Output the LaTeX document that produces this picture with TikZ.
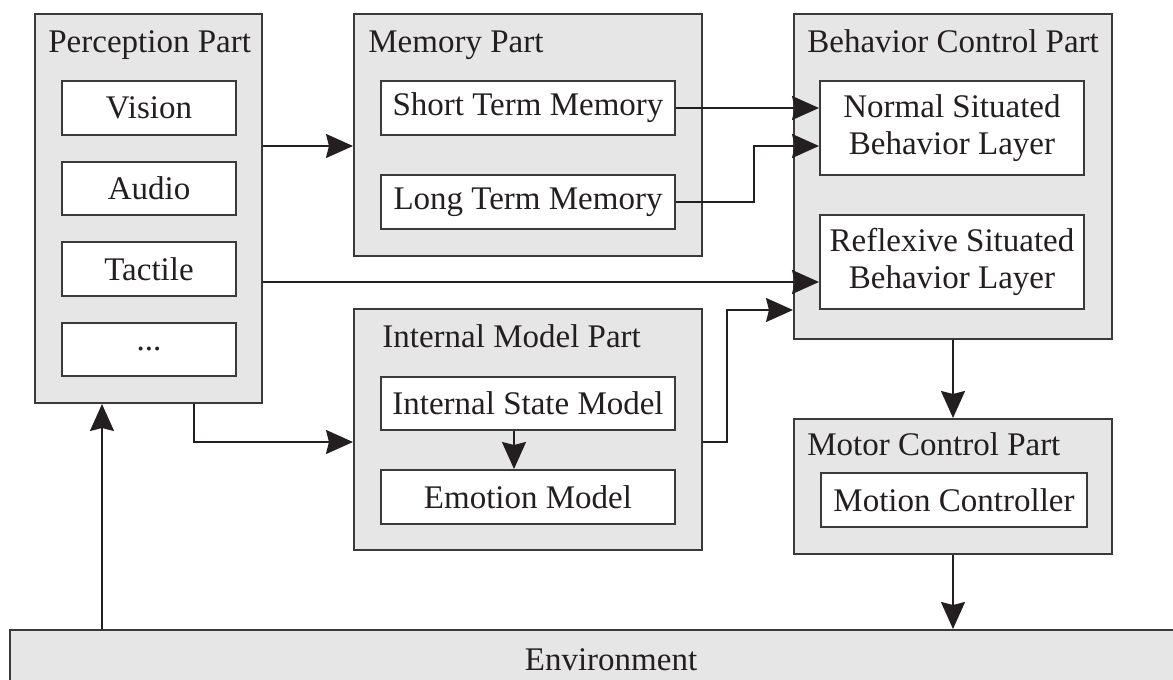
\documentclass[tikz,border=0pt]{standalone}
\usepackage{fontspec}
\setmainfont{Liberation Serif}
\usetikzlibrary{arrows.meta,calc}
\definecolor{partfill}{HTML}{E6E6E6}
\definecolor{edgec}{HTML}{3A3A3A}
\definecolor{ink}{HTML}{231F20}
\begin{document}
\begin{tikzpicture}[x=0.5pt,y=-0.5pt,
  every node/.style={font=\fontsize{16.5}{18.5}\selectfont, text=ink},
  part/.style={draw=edgec, fill=partfill, line width=1pt, anchor=north west, inner sep=0pt},
  unit/.style={draw=edgec, fill=white, line width=1pt, anchor=north west, inner sep=0pt, align=center},
  title/.style={anchor=base west, inner sep=0pt},
  arr/.style={draw=ink, line width=1pt, -{Stealth[length=13.5pt,width=12pt,inset=1.5pt]}}
]
\useasboundingbox (0,0) rectangle (1173,680);
\clip (0,0) rectangle (1173,680);

% Perception part
\node[part, minimum width=113.5pt, minimum height=194.5pt] (perc) at (34,13) {};
\node[title] (perct) at (48,53) {Perception Part};
\node[unit, minimum width=87pt, minimum height=27pt] (vision) at (61,80) {Vision};
\node[unit, minimum width=87pt, minimum height=26.5pt] (audio) at (61,161) {Audio};
\node[unit, minimum width=87pt, minimum height=27pt] (tactile) at (61,241) {Tactile};
\node[unit, minimum width=87pt, minimum height=26.5pt] (dots) at (61,322) {...};

% Memory part
\node[part, minimum width=174pt, minimum height=121pt] (mem) at (353,13) {};
\node[title] (memt) at (368,52) {Memory Part};
\node[unit, minimum width=147pt, minimum height=27pt] (stm) at (380,80) {Short Term Memory};
\node[unit, minimum width=147pt, minimum height=27pt] (ltm) at (380,174) {Long Term Memory};

% Behavior control part
\node[part, minimum width=159pt, minimum height=162.5pt] (beh) at (793,13) {};
\node[title] (beht) at (807,52) {Behavior Control Part};
\node[unit, minimum width=132pt, minimum height=47pt] (nsbl) at (819,80) {Normal Situated\\Behavior Layer};
\node[unit, minimum width=132pt, minimum height=47pt] (rsbl) at (819,214) {Reflexive Situated\\Behavior Layer};

% Internal model part
\node[part, minimum width=174pt, minimum height=120.5pt] (intm) at (353,308) {};
\node[title] (intmt) at (382,347) {Internal Model Part};
\node[unit, minimum width=147pt, minimum height=26.5pt] (ism) at (380,376) {Internal State Model};
\node[unit, minimum width=147pt, minimum height=27pt] (emo) at (380,469) {Emotion Model};

% Motor control part
\node[part, minimum width=159pt, minimum height=67.5pt] (motor) at (793,418) {};
\node[title] (motort) at (807,455) {Motor Control Part};
\node[unit, minimum width=133pt, minimum height=27pt] (mc) at (820,472) {Motion Controller};

% Environment
\node[part, minimum width=601pt, minimum height=30pt] (env) at (9,629) {Environment};

% Connectors
\draw[arr] (perc.east |- 0,146) -- (mem.west |- 0,146);
\draw[arr] (stm.east) -- (stm.east -| nsbl.west);
\draw[arr] (ltm.east) -- (754,0 |- ltm.east) -- (754,146) -- (nsbl.west |- 0,146);
\draw[arr] (perc.east |- 0,282) -- (rsbl.west |- 0,282);
\draw[arr] (perc.south -| 194,0) -- (194,442) -- (intm.west |- 0,442);
\draw[arr] (intm.east |- 0,442) -- (727,442) -- (727,310) -- (beh.west |- 0,310);
\draw[arr] (ism.south -| 514,0) -- (emo.north -| 514,0);
\draw[arr] (beh.south -| motor.north) -- (motor.north);
\draw[arr] (motor.south) -- (env.north -| motor.south);
\draw[arr] (env.north -| 102,0) -- (perc.south -| 102,0);
\end{tikzpicture}
\end{document}
